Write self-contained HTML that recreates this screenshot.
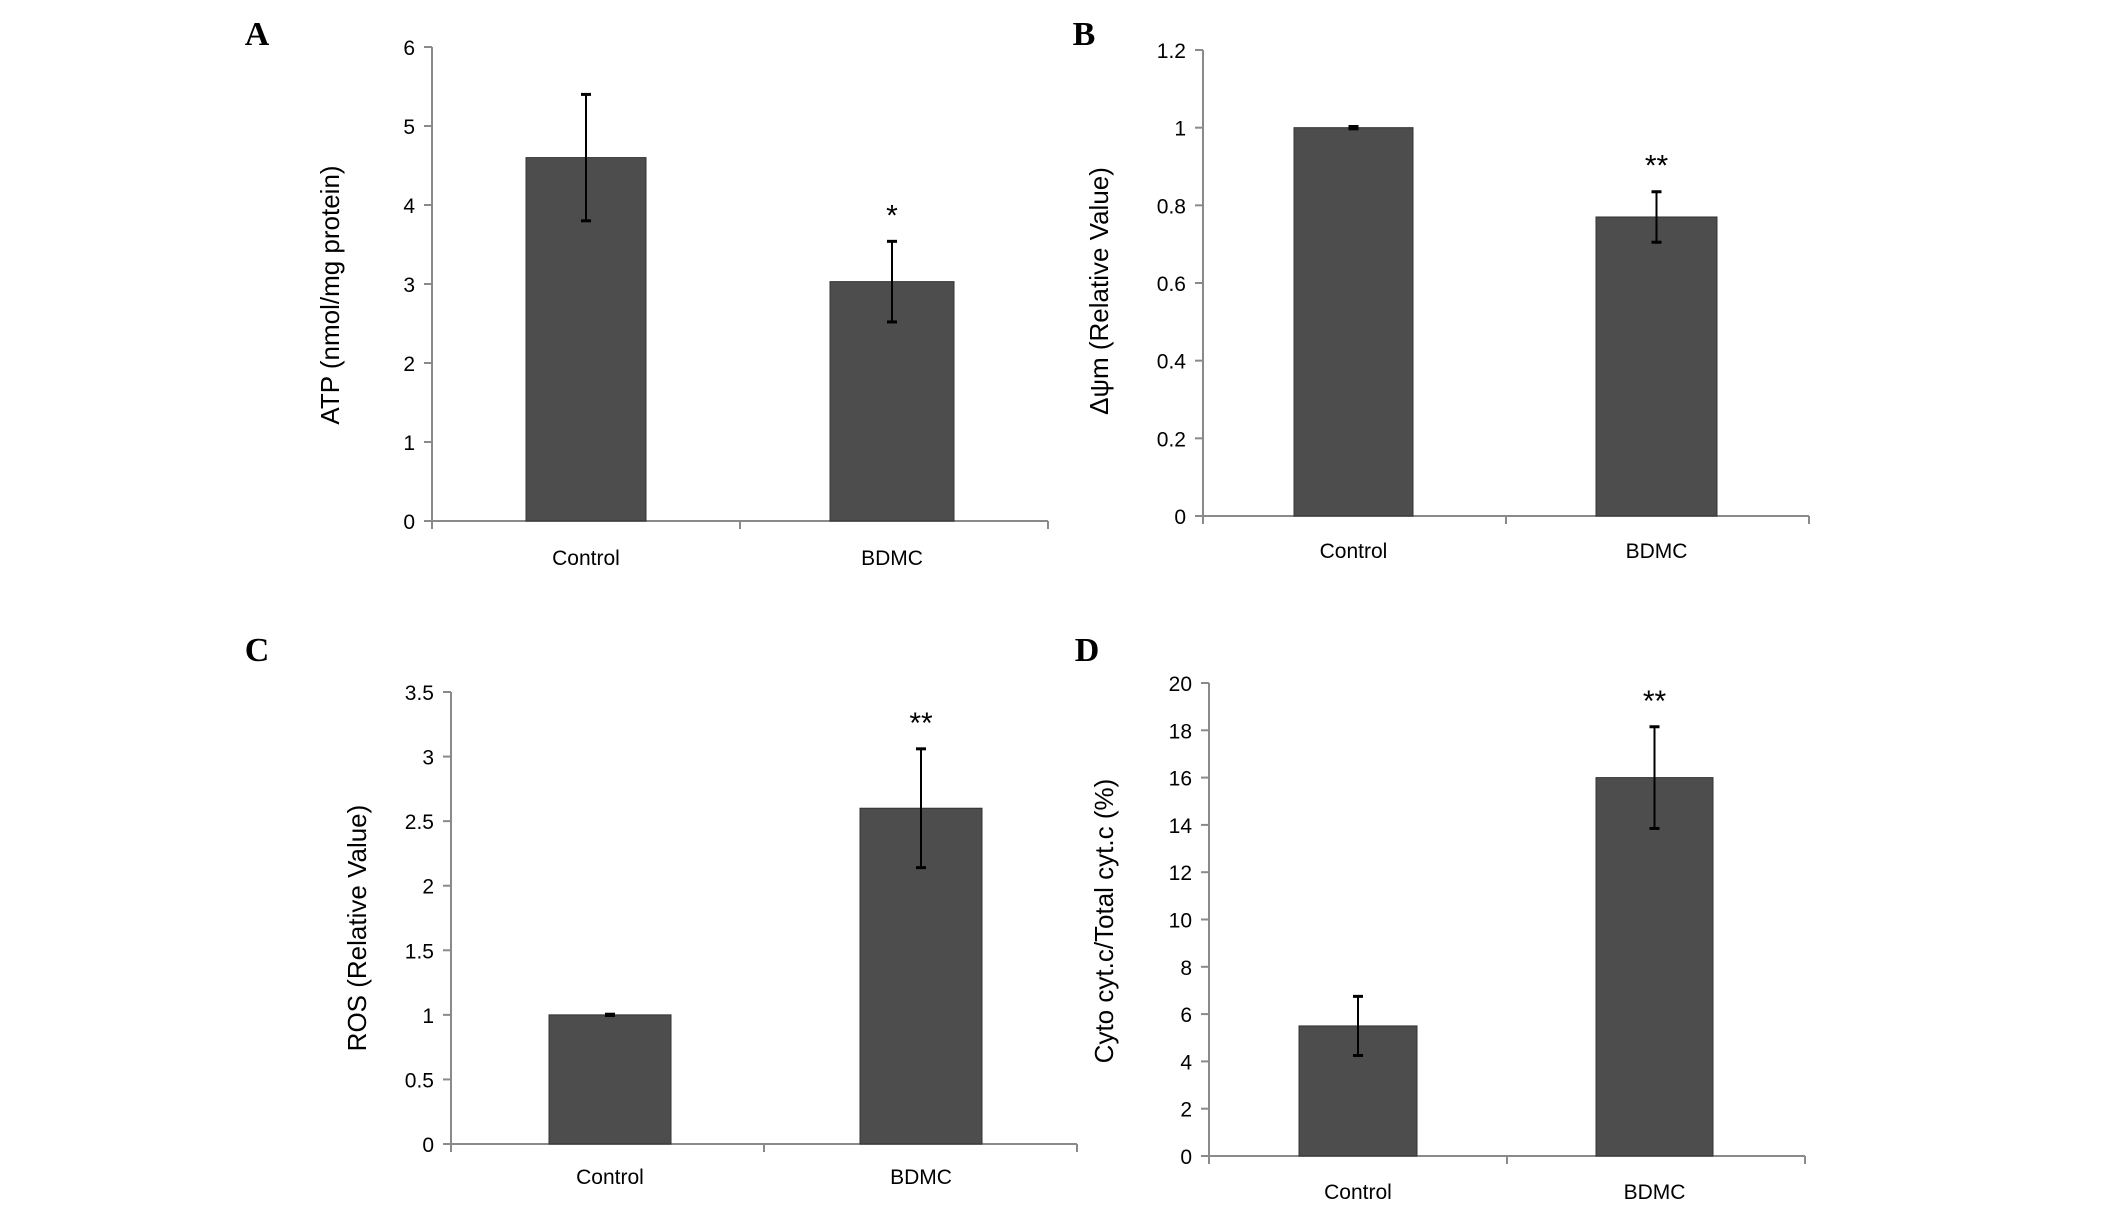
<!DOCTYPE html>
<html><head><meta charset="utf-8"><style>
html,body{margin:0;padding:0;background:#fff;}
svg{display:block;font-family:"Liberation Sans",sans-serif;}
</style></head><body>
<svg id="fig" width="2126" height="1221" viewBox="0 0 2126 1221" xmlns="http://www.w3.org/2000/svg"></svg>
<script>
const categories = ["Control", "BDMC"];
const atpValues = [4.6, 3.03];
const atpErrors = [0.8, 0.51];
const atpTicks = [0, 1, 2, 3, 4, 5, 6];
const mmpValues = [1.0, 0.77];
const mmpErrors = [0.003, 0.065];
const mmpTicks = [0, 0.2, 0.4, 0.6, 0.8, 1, 1.2];
const rosValues = [1.0, 2.6];
const rosErrors = [0.005, 0.46];
const rosTicks = [0, 0.5, 1, 1.5, 2, 2.5, 3, 3.5];
const cytValues = [5.5, 16.0];
const cytErrors = [1.25, 2.15];
const cytTicks = [0, 2, 4, 6, 8, 10, 12, 14, 16, 18, 20];
const atpSig = ["", "*"];
const mmpSig = ["", "**"];
const rosSig = ["", "**"];
const cytSig = ["", "**"];

const svg = document.getElementById('fig');
const NS = "http://www.w3.org/2000/svg";
function mk(tag, attrs, parent) {
  const e = document.createElementNS(NS, tag);
  for (const k in attrs) e.setAttribute(k, attrs[k]);
  (parent || svg).appendChild(e);
  return e;
}

const panels = [
  {id:"a", letter:"A", lx:257, ly:45, x0:432, x1:1048, y0:521, yTop:47, max:6, ticks:atpTicks, vals:atpValues, errs:atpErrors, sig:atpSig,
   title:"ATP (nmol/mg protein)", tx:339, ty:295, bars:[[526,646],[830,954]], labY:557},
  {id:"b", letter:"B", lx:1084, ly:45, x0:1203, x1:1809, y0:516, yTop:50, max:1.2, ticks:mmpTicks, vals:mmpValues, errs:mmpErrors, sig:mmpSig,
   title:"Δψm (Relative Value)", tx:1108, ty:291, bars:[[1294,1413],[1596,1717]], labY:550},
  {id:"c", letter:"C", lx:257, ly:661, x0:451, x1:1077, y0:1144, yTop:692, max:3.5, ticks:rosTicks, vals:rosValues, errs:rosErrors, sig:rosSig,
   title:"ROS (Relative Value)", tx:366, ty:928, bars:[[549,671],[860,982]], labY:1176},
  {id:"d", letter:"D", lx:1087, ly:661, x0:1209, x1:1805, y0:1156, yTop:683, max:20, ticks:cytTicks, vals:cytValues, errs:cytErrors, sig:cytSig,
   title:"Cyto cyt.c/Total cyt.c (%)", tx:1113, ty:921, bars:[[1299,1417],[1596,1713]], labY:1191}
];

panels.forEach(p => {
  const g = mk('g', {});
  
  
  const yScale = v => p.y0 - (v / p.max) * (p.y0 - p.yTop);

  const L = mk('text', {x:p.lx, y:p.ly, 'font-family':'"Liberation Serif",serif', 'font-weight':'bold', 'font-size':34, 'text-anchor':'middle'}, g);
  L.textContent = p.letter;
  
  

  const ya = mk('line', {x1:p.x0, y1:p.yTop, x2:p.x0, y2:p.y0, stroke:'#8a8a8a', 'stroke-width':2}, g);
  
  
  p.ticks.forEach(t => {
    const y = yScale(t);
    const tk = mk('line', {x1:p.x0 - 8, y1:y, x2:p.x0, y2:y, stroke:'#8a8a8a', 'stroke-width':2}, g);
    
    
    const tl = mk('text', {x:p.x0 - 17, y:y + 8, 'font-size':21, 'text-anchor':'end', fill:'#000'}, g);
    tl.textContent = String(t);
    
    
  });
  const xa = mk('line', {x1:p.x0, y1:p.y0, x2:p.x1, y2:p.y0, stroke:'#8a8a8a', 'stroke-width':2}, g);
  
  
  const mid = (p.x0 + p.x1) / 2;
  [p.x0, mid, p.x1].forEach(x => {
    const tk = mk('line', {x1:x, y1:p.y0, x2:x, y2:p.y0 + 8, stroke:'#8a8a8a', 'stroke-width':2}, g);
    
    
  });
  const tt = mk('text', {x:p.tx, y:p.ty, 'font-size':26, 'text-anchor':'middle', transform:`rotate(-90 ${p.tx} ${p.ty})`, fill:'#000'}, g);
  tt.textContent = p.title;
  
  

  categories.forEach((c, i) => {
    const [bx0, bx1] = p.bars[i];
    const cx = (bx0 + bx1) / 2;
    const v = p.vals[i], e = p.errs[i];
    const top = yScale(v);
    const r = mk('rect', {x:bx0, y:top, width:bx1 - bx0, height:p.y0 - top, fill:'#4d4d4d', stroke:'#333', 'stroke-width':1}, g);
    
    
    const yh = yScale(v + e), yl = yScale(v - e);
    const eg = mk('g', {stroke:'#000', 'stroke-width':2}, g);
    
    
    mk('line', {x1:cx, y1:yh, x2:cx, y2:yl}, eg);
    mk('line', {x1:cx - 5, y1:yh, x2:cx + 5, y2:yh, 'stroke-width':3}, eg);
    mk('line', {x1:cx - 5, y1:yl, x2:cx + 5, y2:yl, 'stroke-width':3}, eg);
    if (p.sig[i]) {
      const s = mk('text', {x:cx, y:yh - 16, 'font-size':30, 'text-anchor':'middle', fill:'#000'}, g);
      s.textContent = p.sig[i];
      
      
    }
    const xl = mk('text', {x:cx, y:p.labY + 8, 'font-size':21, 'text-anchor':'middle', fill:'#000'}, g);
    xl.textContent = c;
    
    
  });
});
</script>
</body></html>
